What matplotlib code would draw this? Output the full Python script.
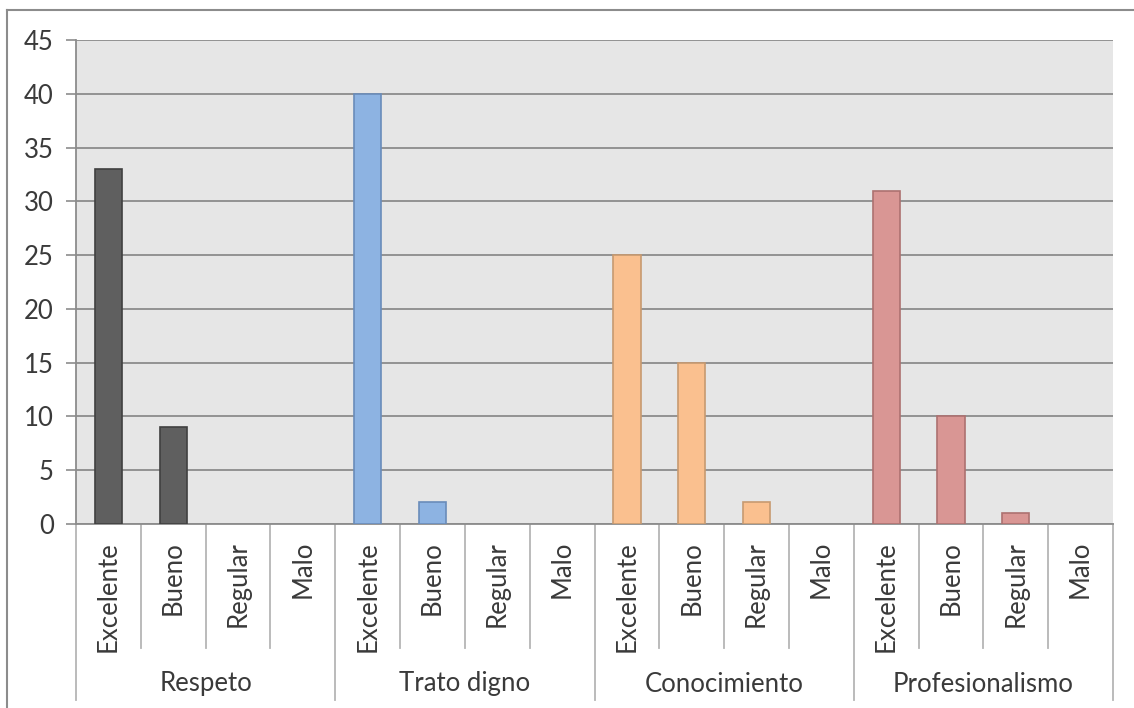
import matplotlib.pyplot as plt
from matplotlib.lines import Line2D
import numpy as np

groups = ["Respeto", "Trato digno", "Conocimiento", "Profesionalismo"]
ratings = ["Excelente", "Bueno", "Regular", "Malo"]
respeto = [33, 9, 0, 0]
trato_digno = [40, 2, 0, 0]
conocimiento = [25, 15, 2, 0]
profesionalismo = [31, 10, 1, 0]
series = [respeto, trato_digno, conocimiento, profesionalismo]

fills = ["#5f5f5f", "#8db3e2", "#fac08f", "#d99694"]
edges = ["#404040", "#6a8cba", "#c79a70", "#ad7170"]

plt.rcParams['font.family'] = ['Lato', 'DejaVu Sans']
FS = 18.5

W, H = 1134, 708
fig = plt.figure(figsize=(W / 100, H / 100), dpi=100)
left, right, top, bottom = 76, 1113, 40, 524
ax = fig.add_axes([left / W, 1 - bottom / H, (right - left) / W, (bottom - top) / H])
ax.set_facecolor("#e6e6e6")

n = len(ratings)
for g, vals in enumerate(series):
    xs = np.arange(n) + g * n
    lw = [1.2 if v > 0 else 0 for v in vals]
    ax.bar(xs, vals, width=0.42, color=fills[g], edgecolor=edges[g], linewidth=lw, zorder=3)

ax.set_xlim(-0.5, len(groups) * n - 0.5)
ax.set_ylim(0, 45)
ax.set_yticks(np.arange(0, 46, 5))
ax.yaxis.grid(True, color="#8c8c8c", linewidth=1.3, zorder=0)
ax.tick_params(axis="y", length=7, width=1.2, color="#8c8c8c", pad=9, labelsize=FS, labelcolor="#3a3a3a")
ax.set_xticks([])
for s in ["top", "right"]:
    ax.spines[s].set_visible(False)
ax.spines["left"].set_color("#8c8c8c")
ax.spines["bottom"].set_color("#8c8c8c")
ax.spines["left"].set_linewidth(1.3)
ax.spines["bottom"].set_linewidth(1.3)

# multi-level category axis
ax_h = bottom - top
def yfrac(py):
    return (bottom - py) / ax_h

trans = ax.get_xaxis_transform()
total = len(groups) * n
for i in range(total + 1):
    x = i - 0.5
    y_end = yfrac(700) if i % n == 0 else yfrac(648)
    ax.add_line(Line2D([x, x], [0, y_end], transform=trans, color="#b5b5b5",
                       linewidth=1.3, clip_on=False))
for g, name in enumerate(groups):
    for r, lab in enumerate(ratings):
        ax.text(g * n + r, yfrac(541), lab, transform=trans, rotation=90,
                ha="center", va="top", fontsize=FS, color="#3a3a3a")
    ax.text(g * n + (n - 1) / 2, yfrac(684), name, transform=trans,
            ha="center", va="center", fontsize=FS, color="#3a3a3a")

# outer chart border (partially visible)
fig.add_artist(Line2D([7 / W, 7 / W], [0, 1 - 10 / H], transform=fig.transFigure,
                      color="#8c8c8c", linewidth=1.5))
fig.add_artist(Line2D([7 / W, 1], [1 - 10 / H, 1 - 10 / H], transform=fig.transFigure,
                      color="#8c8c8c", linewidth=1.5))

fig.savefig("out.png", dpi=100)
